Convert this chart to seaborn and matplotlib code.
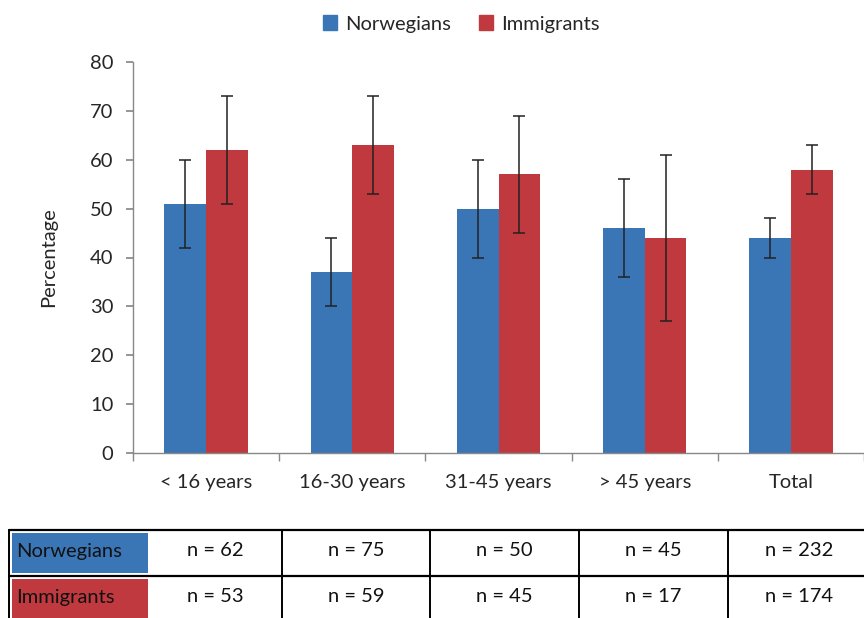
import pandas as pd
import matplotlib.pyplot as plt
import matplotlib.patches as mpatches
import seaborn as sns

# Data
groups = ["< 16 years", "16-30 years", "31-45 years", "> 45 years", "Total"]
norwegians = [51, 37, 50, 46, 44]
norw_low = [42, 30, 40, 36, 40]
norw_high = [60, 44, 60, 56, 48]
immigrants = [62, 63, 57, 44, 58]
imm_low = [51, 53, 45, 27, 53]
imm_high = [73, 73, 69, 61, 63]
n_norwegians = [62, 75, 50, 45, 232]
n_immigrants = [53, 59, 45, 17, 174]
series = ["Norwegians", "Immigrants"]
colors = {"Norwegians": "#3a76b6", "Immigrants": "#c0393f"}

df = pd.DataFrame({
    "group": groups * 2,
    "series": ["Norwegians"] * 5 + ["Immigrants"] * 5,
    "value": norwegians + immigrants,
    "low": norw_low + imm_low,
    "high": norw_high + imm_high,
})

sns.set_theme(style="white")
plt.rcParams['font.family'] = ['Lato', 'DejaVu Sans']
FS = 14.5

W, H = 864, 618
fig = plt.figure(figsize=(8.64, 6.18), dpi=100)
ax = fig.add_axes([133 / W, (H - 453) / H, (W - 133) / W, (453 - 62) / H])

sns.barplot(data=df, x="group", y="value", hue="series", order=groups,
            hue_order=series, palette=colors, width=0.57, gap=0,
            saturation=1, errorbar=None, linewidth=0, ax=ax, legend=False)

# error bars from the bar positions
for patch_list, s in zip(ax.containers, series):
    sub = df[df["series"] == s].set_index("group").loc[groups]
    xs = [p.get_x() + p.get_width() / 2 for p in patch_list]
    ys = sub["value"].values
    ax.errorbar(xs, ys, yerr=[ys - sub["low"].values, sub["high"].values - ys],
                fmt="none", ecolor="#222222", elinewidth=1.1, capsize=4,
                capthick=1.1, zorder=5)

ax.set_ylim(0, 80)
ax.set_xlim(-0.5, -0.5 + (W - 133) / 148)
ax.set_yticks(range(0, 81, 10))
ax.set_ylabel("Percentage", fontsize=FS, labelpad=24)
ax.set_xlabel("")
ax.tick_params(axis="y", labelsize=FS, length=5, color="#888888",
               direction="out", left=True, pad=9)
ax.tick_params(axis="x", which="major", labelsize=FS, length=0, pad=15)
ax.set_xticks([i + 0.5 for i in range(-1, 5)], minor=True)
ax.tick_params(axis="x", which="minor", length=6, color="#888888",
               direction="out", bottom=True)
for side in ["top", "right"]:
    ax.spines[side].set_visible(False)
for side in ["left", "bottom"]:
    ax.spines[side].set_color("#888888")
    ax.spines[side].set_linewidth(1)

handles = [mpatches.Patch(color=colors[s], label=s) for s in series]
fig.legend(handles=handles, loc="center", bbox_to_anchor=(461 / W, 1 - 24 / H),
           ncol=2, frameon=False, fontsize=FS, handlelength=0.7,
           handleheight=0.7, handletextpad=0.4, columnspacing=1.4)

# sample size table below the chart
tab = fig.add_axes([0, 0, 1, 1], zorder=-1)
tab.set_xlim(0, W)
tab.set_ylim(H, 0)
tab.axis("off")
col_edges = [9, 148, 282, 430, 579, 728, 870]
row_edges = [530, 576, 622]
for r, (s, counts) in enumerate(zip(series, [n_norwegians, n_immigrants])):
    y0, y1 = row_edges[r], row_edges[r + 1]
    tab.add_patch(mpatches.Rectangle((12, y0 + 3), 136, y1 - y0 - 6,
                                     color=colors[s], lw=0))
    tab.text(16, (y0 + y1) / 2 - 2, s, fontsize=FS, va="center", ha="left",
             color="#111111")
    for c, n in enumerate(counts):
        xc = (col_edges[c + 1] + col_edges[c + 2]) / 2
        tab.text(xc, (y0 + y1) / 2 - 2, f"n = {n}", fontsize=FS, va="center",
                 ha="center", color="#111111")
for y in row_edges[:2]:
    tab.plot([col_edges[0], W], [y, y], color="black", lw=1.6)
for x in [col_edges[0]] + col_edges[2:6]:
    tab.plot([x, x], [row_edges[0], H], color="black", lw=1.4)

fig.savefig("out.png", dpi=100)
